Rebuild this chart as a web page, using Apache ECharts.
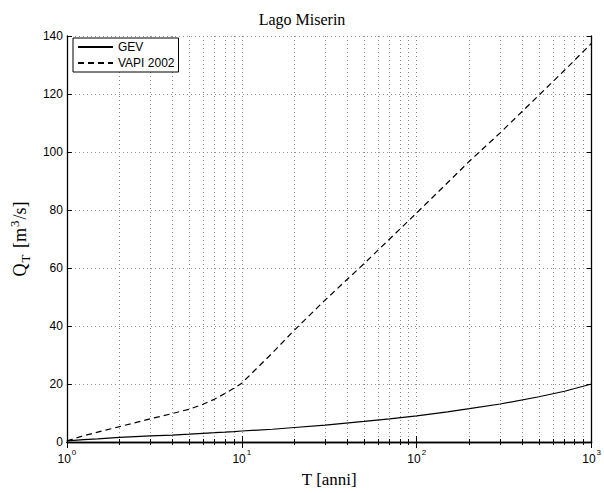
<!DOCTYPE html>
<html>
<head>
<meta charset="utf-8">
<script src="https://cdn.jsdelivr.net/npm/echarts@6/dist/echarts.min.js"></script>
<style>html,body{margin:0;padding:0;background:#fff;}#c{width:604px;height:493px;}</style>
</head>
<body>
<div id="c"></div>
<script>
// Return periods T [anni]
const T = [1, 1.25, 1.5, 2, 3, 4, 5, 6, 7, 8, 9, 10, 15, 20, 30, 50, 70, 100, 150, 200, 300, 500, 700, 1000];
// GEV curve Q_T [m^3/s]
const gev = [0.4, 0.8, 1.1, 1.6, 2.1, 2.4, 2.7, 3.0, 3.2, 3.4, 3.6, 3.8, 4.4, 5.0, 5.8, 7.1, 8.0, 9.0, 10.4, 11.5, 13.1, 15.6, 17.5, 20.0];
// VAPI 2002 curve Q_T [m^3/s]
const vapi = [0.4, 2.2, 3.4, 5.3, 8.0, 9.8, 11.3, 13.0, 14.8, 16.7, 18.5, 20.3, 30.8, 38.6, 49.0, 61.5, 70.0, 79.0, 89.4, 96.8, 106.6, 119.6, 128.2, 137.5];
// Y tick values
const yTicks = [0, 20, 40, 60, 80, 100, 120, 140];
const seriesNames = ['GEV', 'VAPI 2002'];

const serif = '"Liberation Serif", "Times New Roman", serif';
const sans = '"Liberation Sans", Arial, sans-serif';
const grid = {left: 66, right: 11, top: 36, bottom: 44};
const dotted = {color: '#8a8a8a', width: 1, type: [1, 3]};
const frame = {color: '#000', width: 1.3};

function xLabel(v) {
  const e = Math.round(Math.log10(v));
  return '{b|10}{s|' + e + '}';
}

const chart = echarts.init(document.getElementById('c'), null, {renderer: 'svg'});
chart.setOption({
  animation: false,
  backgroundColor: '#fff',
  title: {
    text: 'Lago Miserin', left: 'center', top: 6,
    textStyle: {fontFamily: serif, fontSize: 16, fontWeight: 'normal', color: '#000'}
  },
  legend: {
    orient: 'vertical', left: 73, top: 38,
    itemWidth: 35, itemHeight: 12, itemGap: 4,
    padding: [3, 4, 3, 4],
    borderColor: '#000', borderWidth: 1, backgroundColor: '#fff',
    itemStyle: {opacity: 0},
    textStyle: {fontFamily: sans, fontSize: 12, color: '#000'},
    data: seriesNames
  },
  grid: grid,
  xAxis: [
    {
      type: 'log', logBase: 10, min: 1, max: 1000, position: 'bottom',
      name: 'T [anni]', nameLocation: 'middle', nameGap: 29,
      nameTextStyle: {fontFamily: serif, fontSize: 17, color: '#000'},
      axisLine: {show: true, lineStyle: frame},
      axisTick: {show: true, inside: true, length: 6, lineStyle: {color: '#000'}},
      minorTick: {show: true, splitNumber: 9, length: 3, lineStyle: {color: '#000'}},
      splitLine: {show: true, lineStyle: dotted},
      minorSplitLine: {show: true, lineStyle: dotted},
      axisLabel: {
        margin: 6, formatter: xLabel,
        rich: {
          b: {fontFamily: sans, fontSize: 12, color: '#000', lineHeight: 17, verticalAlign: 'bottom'},
          s: {fontFamily: sans, fontSize: 8, color: '#000', lineHeight: 17, verticalAlign: 'top', padding: [0, 0, 0, 1]}
        }
      }
    },
    {
      type: 'log', logBase: 10, min: 1, max: 1000, position: 'top',
      axisLine: {show: true, lineStyle: frame},
      axisTick: {show: true, inside: true, length: 6, lineStyle: {color: '#000'}},
      minorTick: {show: true, splitNumber: 9, length: 3, lineStyle: {color: '#000'}},
      splitLine: {show: false}, axisLabel: {show: false}
    }
  ],
  yAxis: [
    {
      type: 'value', min: yTicks[0], max: yTicks[yTicks.length - 1], interval: 20, position: 'left',
      name: '{a|Q}{sub|T}{a| [m}{sup|3}{a|/s]}', nameLocation: 'middle', nameGap: 33, nameRotate: 90,
      nameTextStyle: {
        fontFamily: serif, fontSize: 18, color: '#000',
        rich: {
          a: {fontFamily: serif, fontSize: 18, color: '#000', lineHeight: 24, verticalAlign: 'middle'},
          sub: {fontFamily: serif, fontSize: 13, color: '#000', lineHeight: 13, verticalAlign: 'bottom', padding: [0, 2, 0, 1]},
          sup: {fontFamily: serif, fontSize: 13, color: '#000', lineHeight: 13, verticalAlign: 'top', padding: [0, 1, 0, 1]}
        }
      },
      axisLine: {show: true, lineStyle: frame},
      axisTick: {show: true, inside: true, length: 5, lineStyle: {color: '#000'}},
      splitLine: {show: true, lineStyle: dotted},
      axisLabel: {margin: 4, fontFamily: sans, fontSize: 12, color: '#000'}
    },
    {
      type: 'value', min: yTicks[0], max: yTicks[yTicks.length - 1], interval: 20, position: 'right',
      axisLine: {show: true, lineStyle: frame},
      axisTick: {show: true, inside: true, length: 5, lineStyle: {color: '#000'}},
      splitLine: {show: false}, axisLabel: {show: false}
    }
  ],
  series: [
    {
      name: seriesNames[0], type: 'line', xAxisIndex: 0, yAxisIndex: 0,
      data: T.map((t, i) => [t, gev[i]]),
      symbol: 'none', smooth: false,
      lineStyle: {color: '#000', width: 1.2, type: 'solid'},
      itemStyle: {color: '#000'}
    },
    {
      name: seriesNames[1], type: 'line', xAxisIndex: 0, yAxisIndex: 0,
      data: T.map((t, i) => [t, vapi[i]]),
      symbol: 'none', smooth: false,
      lineStyle: {color: '#000', width: 1.2, type: [6, 4]},
      itemStyle: {color: '#000'}
    }
  ]
});
</script>
</body>
</html>
